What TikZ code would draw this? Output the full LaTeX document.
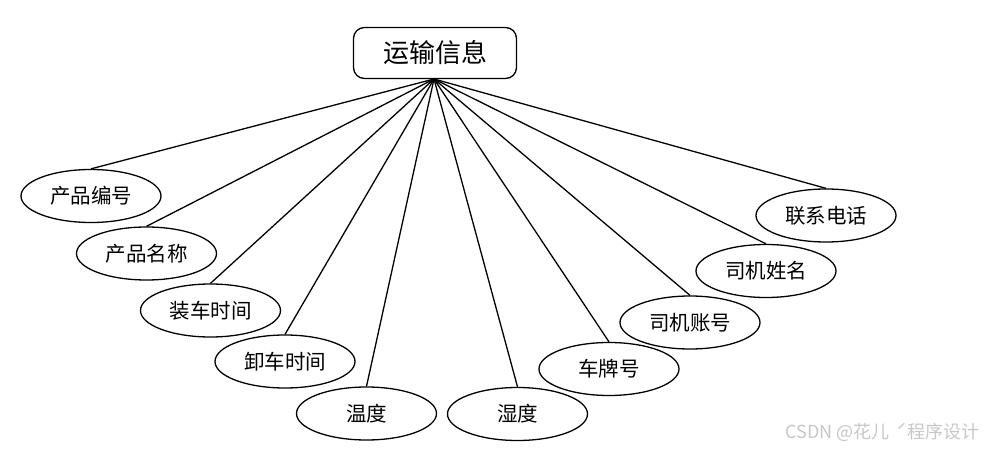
\documentclass[tikz,border=0pt]{standalone}
\usepackage{fontspec}
\setmainfont{Noto Sans CJK SC}
\usetikzlibrary{shapes.geometric}
\begin{document}
\begin{tikzpicture}[x=1pt,y=-1pt,
  attr/.style={draw=black,line width=1.3pt,ellipse,minimum width=140pt,minimum height=53pt,inner sep=0pt,font=\fontsize{20.5}{22}\selectfont},
  entity/.style={draw=black,line width=1.3pt,rounded corners=11pt,minimum width=163pt,minimum height=51pt,inner sep=0pt,font=\fontsize{26}{28}\selectfont},
  link/.style={line width=1.3pt,black}]
\useasboundingbox (0,0) rectangle (985,449);
\node[entity] (e) at (435,53) {运输信息};
\coordinate (h) at (434,79);
\node[attr] (a1) at (91,196) {产品编号};
\node[attr] (a2) at (146.5,253.5) {产品名称};
\node[attr] (a3) at (210.5,310.5) {装车时间};
\node[attr] (a4) at (285,361.5) {卸车时间};
\node[attr] (a5) at (366.5,413.5) {温度};
\node[attr] (a6) at (517.5,414) {湿度};
\node[attr] (a7) at (609,369) {车牌号};
\node[attr] (a8) at (690,322.5) {司机账号};
\node[attr] (a9) at (766,271) {司机姓名};
\node[attr] (a10) at (826,215.5) {联系电话};
\foreach \i in {1,...,10} {\draw[link] (h) -- (a\i.north);}
\node[text=black!22,font=\fontsize{18}{20}\selectfont,anchor=east,inner sep=0pt] (wm) at (980,432) {CSDN @花儿 \,ˊ程序设计};
\end{tikzpicture}
\end{document}
